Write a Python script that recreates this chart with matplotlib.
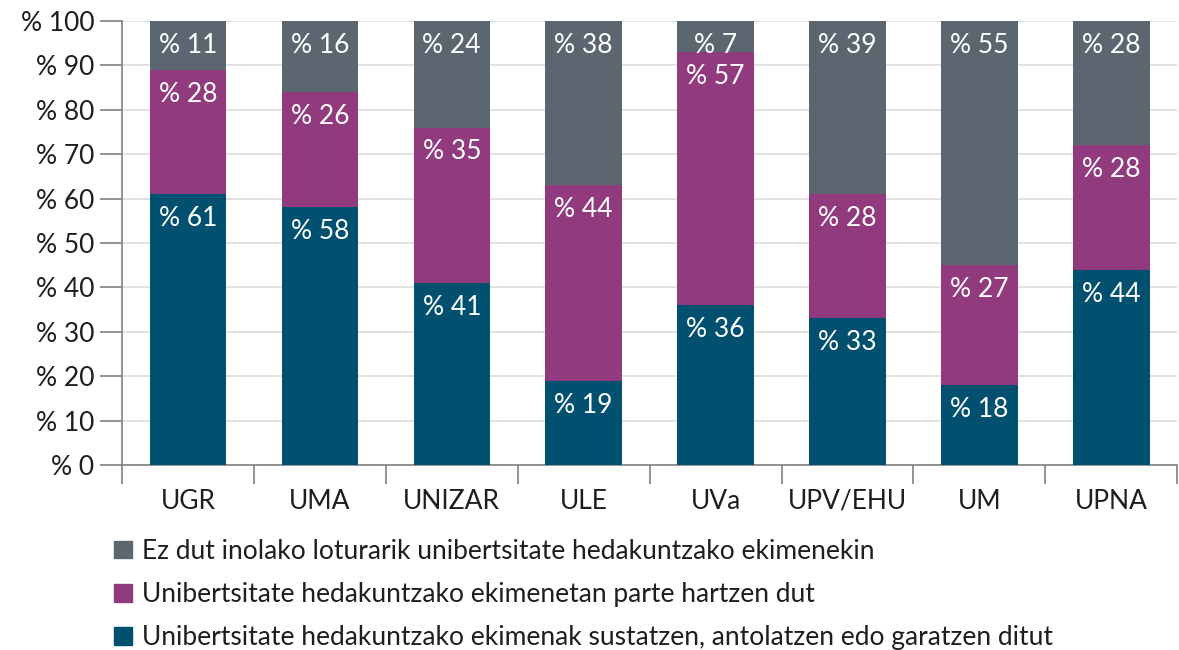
import matplotlib
matplotlib.use("Agg")
import matplotlib.pyplot as plt
import numpy as np
from matplotlib.patches import Patch

plt.rcParams["font.family"] = ["Lato", "DejaVu Sans"]

universities = ["UGR", "UMA", "UNIZAR", "ULE", "UVa", "UPV/EHU", "UM", "UPNA"]
promote = [61, 58, 41, 19, 36, 33, 18, 44]      # sustatzen, antolatzen edo garatzen
take_part = [28, 26, 35, 44, 57, 28, 27, 28]    # parte hartzen dut
no_link = [11, 16, 24, 38, 7, 39, 55, 28]       # ez dut inolako loturarik

labels = [
    "Ez dut inolako loturarik unibertsitate hedakuntzako ekimenekin",
    "Unibertsitate hedakuntzako ekimenetan parte hartzen dut",
    "Unibertsitate hedakuntzako ekimenak sustatzen, antolatzen edo garatzen ditut",
]
TEAL, PURPLE, GREY = "#02506f", "#913a7e", "#5c6670"
FS = 19

fig = plt.figure(figsize=(11.79, 6.5), dpi=100)
ax = fig.add_axes([0.1035, 0.2846, 0.895, 0.6831])

x = np.arange(len(universities))
w = 0.58
p = np.array(promote, float)
t = np.array(take_part, float)
n = np.array(no_link, float)
bottoms = [np.zeros_like(p), p, p + t]
series = [(p, TEAL), (t, PURPLE), (n, GREY)]
for (vals, col), bot in zip(series, bottoms):
    heights = np.minimum(bot + vals, 100) - bot
    ax.bar(x, heights, w, bottom=bot, color=col, zorder=3)
    for xi, b, v, h in zip(x, bot, vals, heights):
        ax.text(xi, b + h - 5.5, f"% {int(v)}", ha="center", va="center",
                color="white", fontsize=FS, zorder=4)

ax.set_xlim(-0.5, len(universities) - 0.5)
ax.set_ylim(0, 100)
ax.set_yticks(np.arange(0, 101, 10))
ax.set_yticklabels([f"% {v}" for v in range(0, 101, 10)], fontsize=FS, color="#1e1e1e")
ax.yaxis.grid(True, color="#dcdcdc", lw=1.2, zorder=0)
ax.tick_params(axis="y", length=16, width=1.2, color="#808080", pad=4)

ax.set_xticks(np.arange(-0.5, len(universities), 1))
ax.set_xticklabels([])
ax.tick_params(axis="x", which="major", length=14, width=1.2, color="#808080")
ax.set_xticks(x, minor=True)
ax.set_xticklabels(universities, minor=True, fontsize=FS, color="#1e1e1e")
ax.tick_params(axis="x", which="minor", length=0, pad=17)

for s in ["top", "right"]:
    ax.spines[s].set_visible(False)
for s in ["left", "bottom"]:
    ax.spines[s].set_color("#808080")
    ax.spines[s].set_linewidth(1.2)

handles = [Patch(color=GREY), Patch(color=PURPLE), Patch(color=TEAL)]
fig.legend(handles, labels, loc="upper left", bbox_to_anchor=(0.097, 0.171),
           frameon=False, fontsize=FS, handlelength=0.65, handleheight=0.65,
           handletextpad=0.4, labelspacing=0.69, borderaxespad=0, borderpad=0,
           labelcolor="#1e1e1e")

fig.savefig("out.png", dpi=100)
